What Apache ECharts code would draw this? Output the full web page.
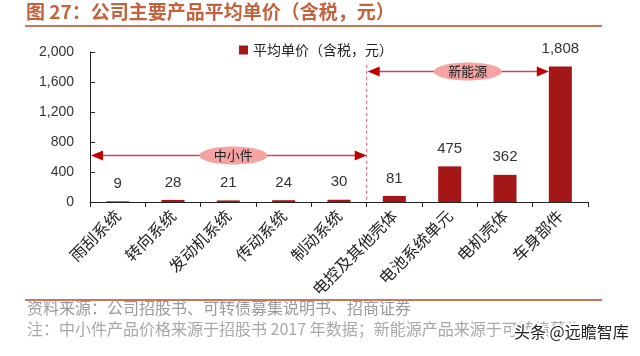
<!DOCTYPE html>
<html><head><meta charset="utf-8">
<script src="https://cdn.jsdelivr.net/npm/echarts@6/dist/echarts.min.js"></script>
<style>html,body{margin:0;padding:0;background:#fff}#c{width:640px;height:356px}</style>
</head><body><div id="c"></div>
<script>
var categories = ['雨刮系统','转向系统','发动机系统','传动系统','制动系统','电控及其他壳体','电池系统单元','电机壳体','车身部件'];
var prices = [9, 28, 21, 24, 30, 81, 475, 362, 1808];
var yTicks = [0, 400, 800, 1200, 1600, 2000];
var seriesName = '平均单价（含税，元）';
var groupSmall = {name: '中小件', first: 0, last: 4, level: 620};
var groupNew = {name: '新能源', first: 5, last: 8, level: 1740};
var dividerTop = 1830;

var chart = echarts.init(document.getElementById('c'));
var fmt = function (v) { return Number(v).toLocaleString('en-US'); };
var CJK = '"Noto Sans CJK SC", sans-serif';
var LAT = '"Liberation Sans", Arial, sans-serif';
var barW = 23;

chart.setOption({
  animation: false,
  backgroundColor: '#fff',
  grid: {left: 90, right: 52, top: 52, bottom: 154, containLabel: false},
  legend: {
    data: [seriesName], left: 234, top: 38, icon: 'rect', itemWidth: 9, itemHeight: 9, itemGap: 4,
    textStyle: {fontSize: 14, color: '#222', fontFamily: CJK}
  },
  xAxis: {
    type: 'category', data: categories,
    axisLine: {lineStyle: {color: '#222', width: 1}},
    axisTick: {show: true, length: 5, lineStyle: {color: '#222'}},
    axisLabel: {rotate: 45, fontSize: 16, color: '#222', fontFamily: CJK, margin: 11, interval: 0}
  },
  yAxis: {
    type: 'value', min: 0, max: 2000, interval: 400,
    splitLine: {show: false},
    axisLine: {show: true, lineStyle: {color: '#222'}},
    axisTick: {show: true, inside: true, length: 5, lineStyle: {color: '#222'}},
    axisLabel: {fontSize: 14, color: '#333', fontFamily: LAT, margin: 16,
      formatter: function (v) { return yTicks.indexOf(v) >= 0 ? fmt(v) : ''; }}
  },
  series: [{
    name: seriesName, type: 'bar', data: prices, barWidth: barW,
    itemStyle: {color: '#a51616'},
    label: {show: true, position: 'top', distance: 10, fontSize: 15, color: '#333', fontFamily: LAT,
      formatter: function (p) { return fmt(p.value); }}
  }]
});

function px(i, v) { return chart.convertToPixel({xAxisIndex: 0, yAxisIndex: 0}, [i, v]); }
var c0 = px(0, 0), c1 = px(1, 0);
var band = c1[0] - c0[0];
var axisLeft = c0[0] - band / 2;
var boundary = px(groupSmall.last, 0)[0] + band / 2;
var yBase = c0[1];
var ySmall = px(0, groupSmall.level)[1];
var yNew = px(0, groupNew.level)[1];
var yDivTop = px(0, dividerTop)[1];
var newEnd = px(groupNew.last, 0)[0] - barW / 2;

var arrowColor = '#c00000';
function arrow(x1, x2, y) {
  return [
    {type: 'line', shape: {x1: x1 + 8, y1: y, x2: x2 - 8, y2: y}, style: {stroke: '#d0454a', lineWidth: 1.5}},
    {type: 'polygon', shape: {points: [[x1, y], [x1 + 12, y - 5], [x1 + 12, y + 5]]}, style: {fill: arrowColor}},
    {type: 'polygon', shape: {points: [[x2, y], [x2 - 12, y - 5], [x2 - 12, y + 5]]}, style: {fill: arrowColor}}
  ];
}
function tag(cx, cy, text) {
  return [
    {type: 'ellipse', shape: {cx: cx, cy: cy, rx: 34, ry: 9}, style: {fill: '#f5a3a3'}},
    {type: 'text', x: cx, y: cy, style: {text: text, fontSize: 13, fill: '#222', fontFamily: CJK, align: 'center', verticalAlign: 'middle'}}
  ];
}

var els = [];
els.push({type: 'text', left: 26, top: 2, style: {text: '图 27：公司主要产品平均单价（含税，元）', fontSize: 19, fontWeight: 'bold', fill: '#c4623e', fontFamily: CJK}});
els.push({type: 'line', shape: {x1: 25, y1: 26, x2: 602, y2: 26}, style: {stroke: '#c87858', lineWidth: 2}});
els.push({type: 'line', shape: {x1: 25, y1: 300, x2: 602, y2: 300}, style: {stroke: '#c87858', lineWidth: 2}});
els.push({type: 'text', left: 27, top: 300, style: {text: '资料来源：公司招股书、可转债募集说明书、招商证券', fontSize: 16, fill: '#9a9a9a', fontFamily: CJK}});
els.push({type: 'text', left: 27, top: 321, style: {text: '注：中小件产品价格来源于招股书 2017 年数据；新能源产品来源于可转债募集', fontSize: 16, fill: '#a8a8a8', fontFamily: CJK}});
els.push({type: 'text', left: 512, top: 322, style: {text: '头条 @远瞻智库', fontSize: 16, fill: '#222', fontFamily: CJK, stroke: '#fff', lineWidth: 4}});
els.push({type: 'line', shape: {x1: boundary, y1: yDivTop, x2: boundary, y2: yBase}, style: {stroke: '#e05060', lineWidth: 1, lineDash: [3, 3]}});
els = els.concat(arrow(axisLeft + 1, boundary, ySmall));
els = els.concat(arrow(boundary + 1, newEnd, yNew));
els = els.concat(tag((axisLeft + boundary) / 2 + 5, ySmall, groupSmall.name));
els = els.concat(tag((boundary + newEnd) / 2 + 10, yNew, groupNew.name));
chart.setOption({graphic: {elements: els}});
</script>
</body></html>
